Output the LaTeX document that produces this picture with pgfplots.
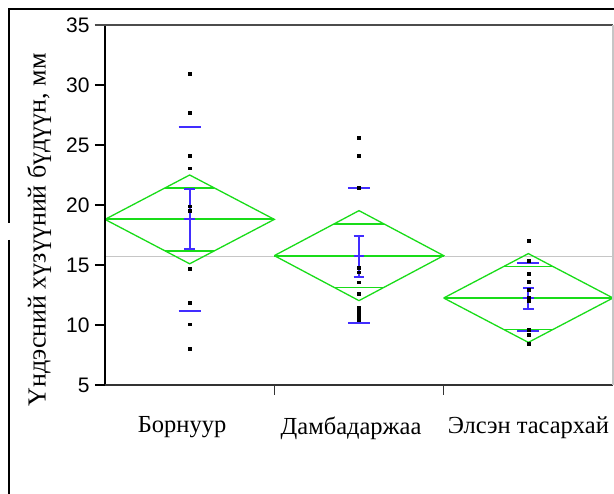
\documentclass[border=0pt]{standalone}
\usepackage{fontspec}
\setmainfont{Liberation Serif}
\newfontfamily\arialfont{Liberation Sans}
\usepackage{pgfplots}
\pgfplotsset{compat=1.18}
\definecolor{dgreen}{RGB}{25,220,25}
\definecolor{eblue}{RGB}{65,45,255}
\begin{document}
\begin{tikzpicture}
\useasboundingbox (-105pt,-109pt) rectangle (509pt,385pt);
\begin{axis}[
  at={(0pt,0pt)}, anchor=south west,
  scale only axis, width=508pt, height=360pt,
  xmin=0, xmax=3, ymin=5, ymax=35,
  clip=false,
  axis line style={draw=none},
  tick pos=left,
  tick align=outside,
  major tick length=10pt,
  ytick={5,10,...,35},
  y tick label style={font=\arialfont\fontsize{21}{25}\selectfont, xshift=-2pt},
  /pgf/number format/assume math mode=true,
  ytick style={black, line width=1.4pt},
  xtick={1,2},
  xticklabels={},
  xtick style={black!80, line width=1.4pt},
  extra x ticks={0.455,1.453,2.5},
  extra x tick labels={Борнуур,Дамбадаржаа,Элсэн тасархай},
  extra x tick style={major tick length=0pt, xtick style={draw=none}},
  x tick label style={font=\fontsize{24.5}{29}\selectfont, yshift=-28pt},
  diag/.style={dgreen, line width=1.3pt},
  hz/.style={dgreen, line width=1.8pt},
  eb/.style={eblue, line width=1.8pt},
]
% grand mean
\addplot[gray!45, line width=1.3pt] coordinates {(0,15.68) (3,15.68)};
% diamonds
\addplot[diag] coordinates {(0,18.8) (0.5,22.5) (1,18.8) (0.5,15.1) (0,18.8)};
\addplot[hz] coordinates {(0,18.8) (1,18.8)};
\addplot[hz] coordinates {(0.354,21.42) (0.646,21.42)};
\addplot[hz] coordinates {(0.354,16.18) (0.646,16.18)};
\addplot[diag] coordinates {(1,15.78) (1.5,19.53) (2,15.78) (1.5,12.03) (1,15.78)};
\addplot[hz] coordinates {(1,15.78) (2,15.78)};
\addplot[hz] coordinates {(1.354,18.43) (1.646,18.43)};
\addplot[hz] coordinates {(1.354,13.13) (1.646,13.13)};
\addplot[diag] coordinates {(2,12.25) (2.5,15.95) (3,12.25) (2.5,8.55) (2,12.25)};
\addplot[hz] coordinates {(2,12.25) (3,12.25)};
\addplot[hz] coordinates {(2.354,14.87) (2.646,14.87)};
\addplot[hz] coordinates {(2.354,9.63) (2.646,9.63)};
% points
\addplot[only marks, mark=square*, mark size=1.4pt, black] coordinates {
 (0.5,30.92) (0.5,27.72) (0.5,24.08) (0.5,23.06) (0.5,19.9) (0.5,19.5)
 (0.5,14.72) (0.5,11.89) (0.5,10.06) (0.5,8.03)
 (1.5,25.58) (1.5,24.08) (1.5,21.42) (1.5,14.8) (1.5,14.4) (1.5,13.56)
 (1.5,12.58) (1.5,11.45) (1.5,11.1) (1.5,10.75) (1.5,10.45)
 (2.5,17.03) (2.5,15.36) (2.5,14.25) (2.5,13.58) (2.5,12.92) (2.5,12.31)
 (2.5,12.0) (2.5,9.58) (2.5,9.17) (2.5,8.47)};
% std error bars
\addplot[eb] coordinates {(0.5,21.36) (0.5,16.3)};
\addplot[eb] coordinates {(0.468,21.36) (0.532,21.36)};
\addplot[eb] coordinates {(0.468,16.3) (0.532,16.3)};
\addplot[eb] coordinates {(0.468,18.8) (0.532,18.8)};
\addplot[eb] coordinates {(1.5,17.44) (1.5,13.97)};
\addplot[eb] coordinates {(1.468,17.44) (1.532,17.44)};
\addplot[eb] coordinates {(1.468,13.97) (1.532,13.97)};
\addplot[eb] coordinates {(1.468,15.78) (1.532,15.78)};
\addplot[eb] coordinates {(2.5,13.11) (2.5,11.31)};
\addplot[eb] coordinates {(2.468,13.11) (2.532,13.11)};
\addplot[eb] coordinates {(2.468,11.31) (2.532,11.31)};
\addplot[eb] coordinates {(2.468,12.25) (2.532,12.25)};
% std dev lines
\addplot[eb] coordinates {(0.435,26.53) (0.565,26.53)};
\addplot[eb] coordinates {(0.435,11.17) (0.565,11.17)};
\addplot[eb] coordinates {(1.435,21.39) (1.565,21.39)};
\addplot[eb] coordinates {(1.435,10.14) (1.565,10.14)};
\addplot[eb] coordinates {(2.435,15.14) (2.565,15.14)};
\addplot[eb] coordinates {(2.435,9.53) (2.565,9.53)};
% axis frame
\draw[black, line width=1.8pt] (rel axis cs:0,0) -- (rel axis cs:0,1);
\draw[black!80, line width=1.8pt] (rel axis cs:0,0) -- (rel axis cs:1,0);
\draw[black!70, line width=1.8pt] ([xshift=-10pt]rel axis cs:0,1) -- (rel axis cs:1,1);
\draw[gray!45, line width=1.2pt] (rel axis cs:1,0) -- (rel axis cs:1,1);
\end{axis}
% outer frame
\draw[black, line width=1.8pt] (-96pt,376pt) -- (509pt,376pt);
\draw[black, line width=1.8pt] (-96pt,376.9pt) -- (-96pt,162pt);
\draw[black, line width=1.8pt] (-96pt,145pt) -- (-96pt,-109pt);
\node[rotate=90, font=\fontsize{26}{30}\selectfont] at (-66pt,155pt) {Үндэсний хүзүүний бүдүүн, мм};
\end{tikzpicture}
\end{document}
